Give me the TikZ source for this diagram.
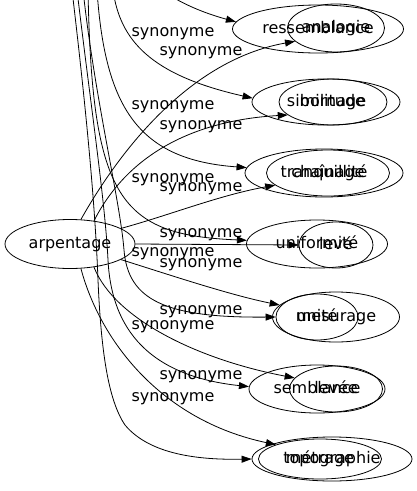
\documentclass[tikz,border=0pt]{standalone}
\usepackage{fontspec}
\setmainfont{DejaVu Sans}
\usetikzlibrary{shapes.geometric,arrows.meta}
\begin{document}
\begin{tikzpicture}[x=1pt,y=-1pt,
  word/.style={draw, ellipse, inner sep=0pt, line width=0.8pt, text height=11.5pt, text depth=3.5pt, font=\fontsize{16}{19}\selectfont},
  lab/.style={anchor=base, inner sep=0pt, font=\fontsize{16}{19}\selectfont},
  syn/.style={line width=0.8pt, -{Triangle[length=10pt,width=7pt]}}]
\useasboundingbox (0,0) rectangle (417,491);
\clip (0,0) rectangle (417,491);
% nodes
\node[word, minimum width=130pt, minimum height=49pt] (arp) at (70,244) {arpentage};
\node[word, minimum width=171pt, minimum height=48pt] (ress) at (318,29) {ressemblance};
\node[word, minimum width=97pt, minimum height=48pt] (anal) at (336,28) {analogie};
\node[word, minimum width=148pt, minimum height=46pt] (sim) at (326,102) {similitude};
\node[word, minimum width=108pt, minimum height=46pt] (born) at (333,102) {bornage};
\node[word, minimum width=158pt, minimum height=48pt] (tranq) at (324,173) {tranquillité};
\node[word, minimum width=123pt, minimum height=46pt] (chain) at (328,173) {chaînage};
\node[word, minimum width=141pt, minimum height=48pt] (unif) at (317,244) {uniformité};
\node[word, minimum width=74pt, minimum height=46pt] (leve) at (336,245) {levé};
\node[word, minimum width=127pt, minimum height=50pt] (mes) at (336,317) {mesurage};
\node[word, minimum width=82pt, minimum height=46pt] (unite) at (317,317) {unité};
\node[word, minimum width=136pt, minimum height=48pt] (semb) at (317,389) {semblance};
\node[word, minimum width=93pt, minimum height=46pt] (levee) at (336,389) {levée};
\node[word, minimum width=160pt, minimum height=44pt] (topo) at (332,459) {topographie};
\node[word, minimum width=123pt, minimum height=40pt] (metr) at (320,459) {métrage};
% free ends above the picture
\coordinate (t1) at (148,-20);
\coordinate (t2) at (113,-10);
\coordinate (t3) at (97,-10);
\coordinate (t4) at (88,-10);
\coordinate (t5) at (83,-10);
\coordinate (t6) at (77,-10);
\coordinate (t7) at (72,-10);
% edges from arpentage
\draw[syn] (arp.66) .. controls (120,150) and (190,60) .. (anal.198);
\draw[syn] (arp.44) .. controls (130,150) and (200,120) .. (born.196);
\draw[syn] (arp.17) .. controls (170,215) and (220,195) .. (chain.193);
\draw[syn] (arp.0) -- (leve.180);
\draw[syn] (arp.-17) .. controls (170,275) and (230,295) .. (mes.168);
\draw[syn] (arp.-44) .. controls (115,320) and (200,360) .. (levee.165);
\draw[syn] (arp.-66) .. controls (100,340) and (160,420) .. (metr.162);
% edges from above
\draw[syn] (t1) .. controls (172,0) and (200,12) .. (ress.175);
\draw[syn] (t2) .. controls (120,40) and (150,75) .. (sim.177);
\draw[syn] (t3) .. controls (105,110) and (140,160) .. (tranq.176);
\draw[syn] (t4) .. controls (92,200) and (120,235) .. (unif.177);
\draw[syn] (t5) .. controls (95,100) and (120,200) .. (124,250) .. controls (128,300) and (165,318) .. (unite.180);
\draw[syn] (t6) .. controls (90,100) and (105,200) .. (108,260) .. controls (111,320) and (140,375) .. (semb.178);
\draw[syn] (t7) .. controls (85,100) and (95,200) .. (98,280) .. controls (101,350) and (108,400) .. (125,425) .. controls (150,455) and (200,460) .. (topo.180);
% labels
\node[lab] (l1) at (173,36) {synonyme};
\node[lab] (l2) at (201,55) {synonyme};
\node[lab] (l3) at (173,109) {synonyme};
\node[lab] (l4) at (201,129) {synonyme};
\node[lab] (l5) at (173,182) {synonyme};
\node[lab] (l6) at (201,191) {synonyme};
\node[lab] (l7) at (201,237) {synonyme};
\node[lab] (l8) at (173,256) {synonyme};
\node[lab] (l9) at (201,267) {synonyme};
\node[lab] (l10) at (201,314) {synonyme};
\node[lab] (l11) at (173,329) {synonyme};
\node[lab] (l12) at (201,379) {synonyme};
\node[lab] (l13) at (173,401) {synonyme};
\end{tikzpicture}
\end{document}
